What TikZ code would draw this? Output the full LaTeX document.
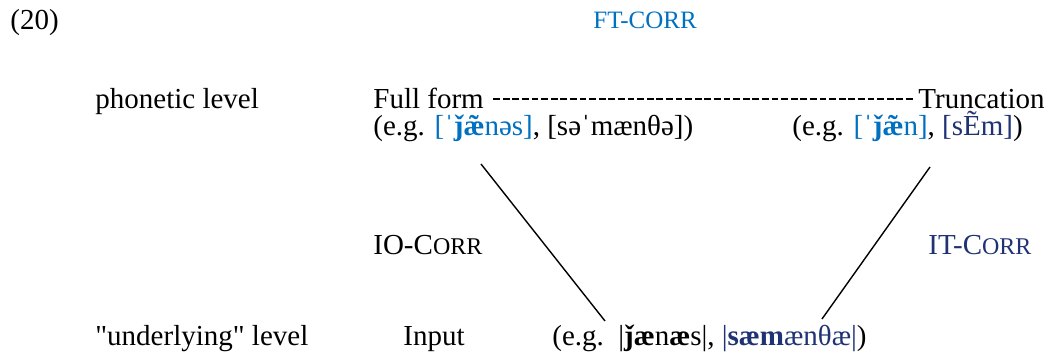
\documentclass[tikz,border=0pt]{standalone}
\usepackage{fontspec}
\setmainfont{Liberation Serif}[Ligatures=TeXOff]
\usepackage{tikz}

\definecolor{ftblue}{RGB}{0,112,192}
\definecolor{itnavy}{RGB}{31,50,115}
\newcommand{\smc}[1]{{\fontsize{12}{14}\selectfont #1}}
\newcommand{\tae}{\ooalign{æ\cr\hidewidth˜\hidewidth\cr}}

\tikzset{
  txt/.style={anchor=base west, inner sep=0pt, font=\fontsize{14.5}{17}\selectfont},
  corr/.style={draw, line width=0.7pt},
}

\begin{document}
\begin{tikzpicture}[x=0.5pt,y=-0.5pt]
\useasboundingbox (0,0) rectangle (1056,362);
\node[txt] (num) at (10,30) {(20)};
\node[txt, text=ftblue, font=\fontsize{12.5}{15}\selectfont] (ftcorr) at (593,29) {FT-CORR};
% phonetic level
\node[txt] (phon) at (95,109) {phonetic level};
\node[txt] (full) at (373,109) {Full form};
\node[txt, anchor=base east] (trunc) at (1045,109) {Truncation};
\draw[line width=0.9pt, dash pattern=on 3.4pt off 1.4pt]
  ([xshift=4.5pt,yshift=5pt]full.base east) -- ([xshift=-2.5pt,yshift=5pt]trunc.base west);
\node[txt] (fullex) at (373,136)
{(e.g. \textcolor{ftblue}{[ˈ\textbf{ǰ\tae}nəs]}, [səˈmænθə])};
\node[txt] (truncex) at (792,136)
{(e.g. \textcolor{ftblue}{[ˈ\textbf{ǰ\tae}n]}, \textcolor{itnavy}{[sẼm]})};
% correspondence relations
\node[txt] (io) at (373,255) {IO-C\smc{ORR}};
\node[txt, text=itnavy] (it) at (928,255) {IT-C\smc{ORR}};
% underlying level
\node[txt] (under) at (95,346) {"underlying" level};
\node[txt] (input) at (403,346) {Input};
\node[txt] (inex) at (552,346)
{(e.g.\ \ |\textbf{ǰæ}n\textbf{æ}s|, \textcolor{itnavy}{|\textbf{sæm}ænθæ|})};
\coordinate (fftop) at (481,164);
\coordinate (trtop) at (930,167);
\coordinate (inleft) at (605,321);
\coordinate (inright) at (822,319);
\draw[corr] (fftop) -- (inleft);
\draw[corr] (trtop) -- (inright);
\end{tikzpicture}
\end{document}
